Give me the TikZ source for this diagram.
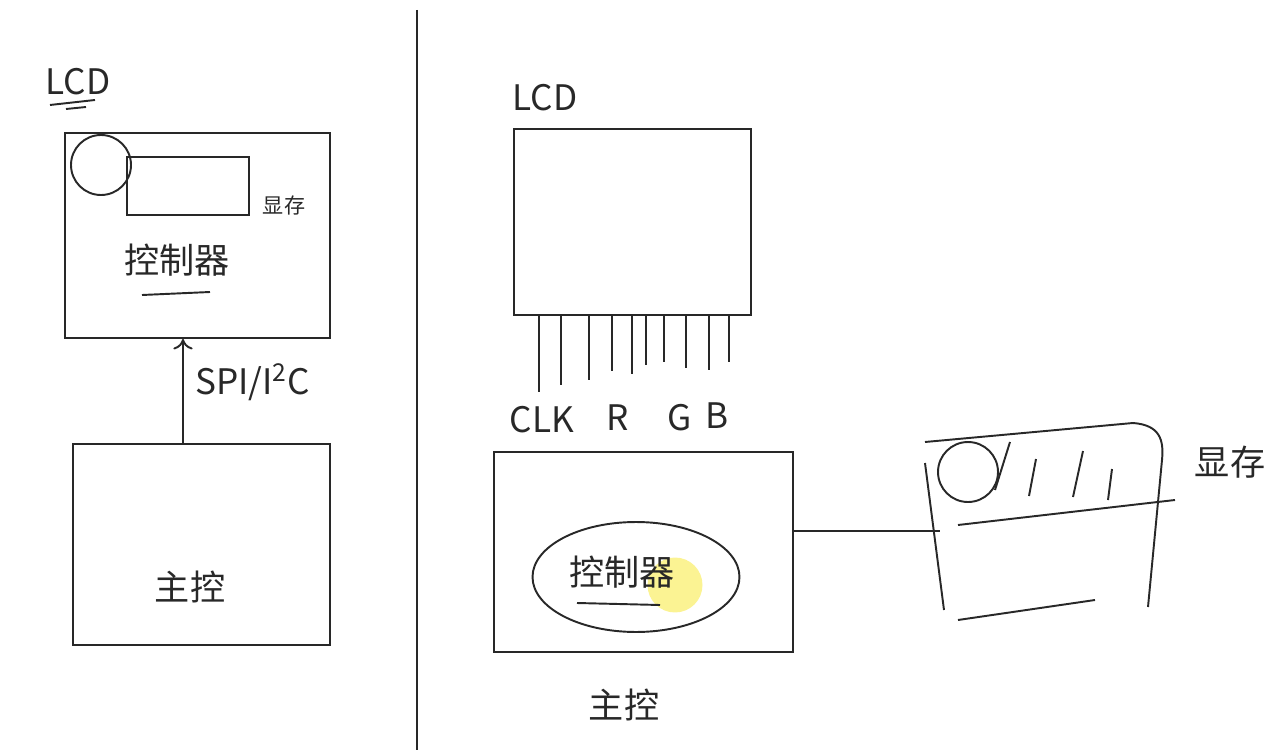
\documentclass[tikz,border=0pt]{standalone}
\usepackage{fontspec}
\usepackage{tikz}
\newfontfamily\cjk{Noto Sans CJK SC}
\definecolor{pen}{RGB}{40,40,40}
\definecolor{hilite}{RGB}{250,240,120}
\usetikzlibrary{shapes.geometric,arrows.meta,positioning,calc}
\tikzset{
    box/.style={rectangle, draw=pen, line width=1.1pt, inner sep=0pt},
    txt/.style={text=pen, font=\cjk\fontsize{20}{22}\selectfont, inner sep=1pt},
    smalltxt/.style={text=pen, font=\cjk\fontsize{12}{13}\selectfont, inner sep=1pt},
    pin/.style={draw=pen, line width=1.1pt},
    arrow/.style={-{To[length=6pt, width=11pt]}, line width=1.1pt, color=pen},
}
\begin{document}
\begin{tikzpicture}[x=0.02cm, y=-0.02cm]
    \useasboundingbox (0,0) rectangle (1282,750);
    % divider
    \draw[pin] (417,10) -- (417,750);

    % Left: LCD with its own controller
    \node[txt] (llcdlbl) at (78,82) {LCD};
    \draw[pin] (50,105) -- (95,100);
    \draw[pin] (66,109) -- (86,107);
    \node[box, minimum width=5.3cm, minimum height=4.1cm] (llcd) at (197.5,235.5) {};
    \node[box, minimum width=2.44cm, minimum height=1.16cm] (lram) at (188,186) {};
    \node[circle, draw=pen, line width=1.1pt, minimum size=1.2cm] (lcirc) at (101,165) {};
    \node[smalltxt] (lramlbl) at (284,205) {显存};
    \node[txt] (lctrl) at (177,260) {控制器};
    \draw[pin] (142,295) -- (210,292);

    % Left: main controller
    \node[box, minimum width=5.14cm, minimum height=4.02cm] (lmain) at (201.5,544.5) {};
    \node[txt] (lmainlbl) at (190,587) {主控};
    \coordinate (ax) at (183,0);
    \draw[arrow] (lmain.north -| ax) -- (llcd.south -| ax);
    \node[txt, anchor=west] (bus) at (193,382) {SPI/I\textsuperscript{2}C};

    % Right: LCD without controller
    \node[txt] (rlcdlbl) at (545,98) {LCD};
    \node[box, minimum width=4.74cm, minimum height=3.72cm] (rlcd) at (632.5,222) {};
    \foreach \x/\y in {539/392, 561/385, 589/380, 612/371, 632/374, 646/365, 664/362, 686/368, 709/370, 729/362}
        \draw[pin] (\x,315) -- (\x,\y);
    \node[txt] (clk) at (542,420) {CLK};
    \node[txt] (rr) at (618,418) {R};
    \node[txt] (gg) at (680,418) {G};
    \node[txt] (bb) at (717,416) {B};

    % Right: main controller with LCD controller inside
    \node[box, minimum width=5.98cm, minimum height=4cm] (rmain) at (643.5,552) {};
    \node[circle, fill=hilite, fill opacity=0.8, minimum size=1.1cm] (hl) at (675,585) {};
    \node[ellipse, draw=pen, line width=1.1pt, minimum width=4.14cm, minimum height=2.2cm] (rctrlring) at (636,577) {};
    \node[txt] (rctrl) at (622,572) {控制器};
    \draw[pin] (577,603) -- (660,605);
    \node[txt] (rmainlbl) at (624,705) {主控};

    % Right: video memory
    \coordinate (mem) at (940,531);
    \draw[pin] (rmain.east |- mem) -- (mem);
    \draw[pin] (925,442) -- (1133,423) .. controls (1160,425) and (1164,440) .. (1162,460) -- (1148,607);
    \draw[pin] (925,463) -- (944,610);
    \node[circle, draw=pen, line width=1.1pt, minimum size=1.2cm] (mcirc) at (968,472) {};
    \draw[pin] (1010,442) -- (995,490);
    \draw[pin] (1036,459) -- (1029,496);
    \draw[pin] (1083,451) -- (1073,497);
    \draw[pin] (1112,469) -- (1108,500);
    \draw[pin] (958,525) -- (1175,500);
    \draw[pin] (958,620) -- (1095,600);
    \node[txt] (memlbl) at (1230,462) {显存};
\end{tikzpicture}
\end{document}
